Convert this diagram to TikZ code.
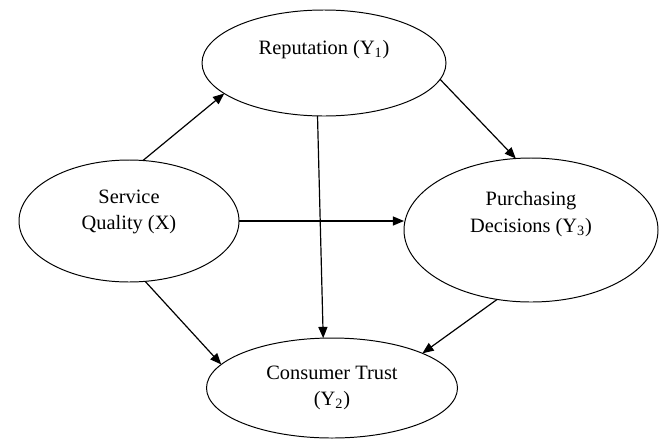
\documentclass[tikz,border=0pt]{standalone}
\usepackage{fontspec}
\setmainfont{Liberation Serif}
\usepackage{xcolor}
\usepackage{tikz}
\usetikzlibrary{calc,shapes.geometric,arrows.meta}
\definecolor{ink}{HTML}{000000}
\tikzset{
  var/.style={draw=ink, ellipse, line width=0.7pt, inner sep=0pt, outer sep=0pt},
  lbl/.style={text=ink, font=\fontsize{14.5}{19}\selectfont, align=center},
  arr/.style={draw=ink, line width=0.85pt, -{Triangle[length=8pt,width=6.5pt]}}
}

\begin{document}
\begin{tikzpicture}
\useasboundingbox (0,0) rectangle (16.55,-11.025);

\node[var, minimum width=6.1cm, minimum height=2.65cm] (rep) at (8.1,-1.575) {};
\node[var, minimum width=5.5cm, minimum height=3.05cm] (sq) at (3.225,-5.525) {};
\node[var, minimum width=6.35cm, minimum height=3.6cm] (pd) at (13.275,-5.75) {};
\node[var, minimum width=6.275cm, minimum height=2.5cm] (ct) at (8.3,-9.7) {};

\node[lbl] (reptext) at ($(rep)+(0,0.325)$) {Reputation (Y\textsubscript{1})};
\node[lbl] (sqtext) at ($(sq)+(0,0.225)$) {Service\\Quality (X)};
\node[lbl] (pdtext) at ($(pd)+(0,0.4)$) {Purchasing\\Decisions (Y\textsubscript{3})};
\node[lbl] (cttext) at ($(ct)+(0,0)$) {Consumer Trust\\(Y\textsubscript{2})};

\draw[arr] (sq.77) -- (rep.197);
\draw[arr] (rep.-8) -- (pd.102);
\draw[arr] (sq.east) -- (sq.east -| pd.west);
\draw[arr] (rep.263) -- (ct.100);
\draw[arr] (sq.-75) -- (ct.168);
\draw[arr] (pd.244) -- (ct.21);
\end{tikzpicture}
\end{document}
